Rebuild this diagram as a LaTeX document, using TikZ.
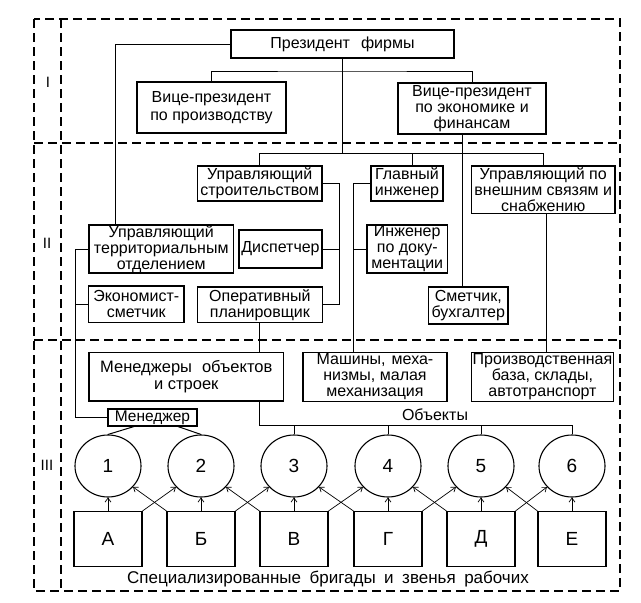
\documentclass[tikz,border=0pt]{standalone}
\usepackage{fontspec}
\setmainfont{Liberation Sans}
\usetikzlibrary{shapes.geometric,arrows.meta,calc}
\newcommand\wsp[1]{\spaceskip=#1\relax}
\begin{document}
\begin{tikzpicture}[x=1pt,y=-1pt,
  box/.style={draw, line width=1.1pt, inner sep=0pt, align=center, font=\fontsize{16}{16}\selectfont},
  circ/.style={draw, line width=1.1pt, ellipse, minimum width=66pt, minimum height=62pt, inner sep=0pt, font=\fontsize{19}{19}\selectfont},
  sq/.style={draw, line width=1.1pt, minimum width=68pt, minimum height=55pt, inner sep=0pt, font=\fontsize{19}{19}\selectfont},
  con/.style={line width=1pt},
  arr/.style={line width=0.7pt, -{Straight Barb[length=4pt,width=6pt]}},
  frame/.style={line width=1.2pt, dash pattern=on 9pt off 5pt},
  lbl/.style={inner sep=0pt, font=\fontsize{16}{16}\selectfont},
  lvl/.style={inner sep=0pt, font=\fontsize{15}{15}\selectfont}]
\useasboundingbox (0,0) rectangle (641,603);
% frame
\draw[frame] (34,19) rectangle (620,591);
\draw[frame] (61,19) -- (61,591);
\draw[frame] (34,143) -- (620,143);
\draw[frame] (34,340) -- (620,340);
\node[lvl] (l1) at (48,82) {I};
\node[lvl] (l2) at (47,243) {II};
\node[lvl] (l3) at (47,465) {III};
% boxes
\node[box, minimum width=223, minimum height=28] (pres) at (342.5,44) {\wsp{11pt}Президент фирмы};
\node[box, minimum width=149, minimum height=51, font=\fontsize{16}{18}\selectfont] (vpprod) at (211.5,107.5) {\wsp{6pt}Вице-президент\\по производству};
\node[box, minimum width=148, minimum height=51] (vpecon) at (472,108.5) {\wsp{6pt}Вице-президент\\по экономике и\\финансам};
\node[box, minimum width=124.5, minimum height=35] (upstroi) at (259.75,183.5) {Управляющий\\строительством};
\node[box, minimum width=72, minimum height=35] (glavinzh) at (407,183.5) {Главный\\инженер};
\node[box, minimum width=143.5, minimum height=47.5] (upvnesh) at (543.25,189.75) {Управляющий по\\внешним связям и\\снабжению};
\node[box, minimum width=144.5, minimum height=48] (upterr) at (161.25,249) {Управляющий\\территориальным\\отделением};
\node[box, minimum width=83, minimum height=38] (disp) at (280.5,249) {Диспетчер};
\node[box, minimum width=80.5, minimum height=48] (inzhdoc) at (407.25,249) {Инженер\\по доку-\\ментации};
\node[box, minimum width=95.5, minimum height=36.5] (ekon) at (136.25,304.25) {Экономист-\\сметчик};
\node[box, minimum width=124.8, minimum height=35.7] (operplan) at (259.9,304.85) {Оперативный\\планировщик};
\node[box, minimum width=79.5, minimum height=37] (smet) at (468.25,305.5) {Сметчик,\\бухгалтер};
\node[box, minimum width=194.5, minimum height=48.5, font=\fontsize{16.5}{17}\selectfont] (menobj) at (186.25,376.75) {\wsp{10pt}Менеджеры объектов\\и строек};
\node[box, minimum width=144, minimum height=49] (mash) at (375,377) {\wsp{6pt}Машины, меха-\\низмы, малая\\механизация};
\node[box, minimum width=142, minimum height=49] (proizv) at (542.5,377) {\wsp{6pt}Производственная\\база, склады,\\автотранспорт};
\node[box, minimum width=89, minimum height=17, font=\fontsize{15.5}{16}\selectfont] (meneger) at (152.5,417.5) {Менеджер};
\node[lbl] (obj) at (435,415) {Объекты};
\node[lbl, font=\fontsize{17}{17}\selectfont] (spec) at (328,579) {\wsp{8.5pt}Специализированные бригады и звенья рабочих};
% circles and squares
\foreach \i/\x in {1/108,2/201,3/294,4/388,5/481,6/572}
  \node[circ] (c\i) at (\x,466) {\i};
\foreach \i/\x/\l in {1/108/А,2/201/Б,3/294/В,4/388/Г,5/481/Д,6/572/Е}
  \node[sq] (b\i) at (\x,539) {\l};
% connectors level I
\coordinate (pl) at (115,44);
\coordinate (jI) at (342.5,71);
\coordinate (jII) at (342.5,153.3);
\draw[con] (pres.west) -- (pl) -- (pl |- upterr.north);
\draw[con] (pres.south) -- (jII);
\draw[con] (vpprod.north) |- (jI) -| (vpecon.north);
\draw[con] (upstroi.north) |- (jII) -| (upvnesh.north);
\draw[con] ([xshift=5]glavinzh.north) -- ([xshift=5]glavinzh.north |- jII);
\draw[con] ([xshift=-10]vpecon.south) -- ([xshift=-10]vpecon.south |- smet.north);
% level II
\coordinate (sx) at (339,0);
\draw[con] (upstroi.east) -| (sx |- operplan.east) -- (operplan.east);
\draw[con] (disp.east) -- (disp.east -| sx);
\coordinate (gx) at (353.5,0);
\draw[con] (glavinzh.west) -| (gx |- mash.north);
\draw[con] (inzhdoc.west) -- (inzhdoc.west -| gx);
\coordinate (tx) at (75,0);
\draw[con] (upterr.west) -| (tx |- meneger.west) -- (meneger.west);
\draw[con] (ekon.west) -- (ekon.west -| tx);
\draw[con] (operplan.south) -- (operplan.south |- menobj.north);
\draw[con] ([xshift=3]upvnesh.south) -- ([xshift=3]upvnesh.south |- proizv.north);
% level III
\coordinate (oy) at (0,425);
\draw[con] (operplan.south |- menobj.south) |- (c6.north |- oy) -- (c6.north);
\foreach \i in {3,4,5}
  \draw[con] (c\i.north |- oy) -- (c\i.north);
\draw[con] ([xshift=-18.5]meneger.south) -- (c1.north);
\draw[con] ([xshift=25.5]meneger.south) -- (c2.north);
\foreach \i in {1,...,6}
  \draw[arr] (b\i.north) -- (c\i.south);
\foreach \i/\j in {1/2,2/3,3/4,4/5,5/6} {
  \draw[arr] (b\i.north east) -- (c\j.220);
  \draw[arr] (b\j.north west) -- (c\i.320);
}
\end{tikzpicture}
\end{document}
